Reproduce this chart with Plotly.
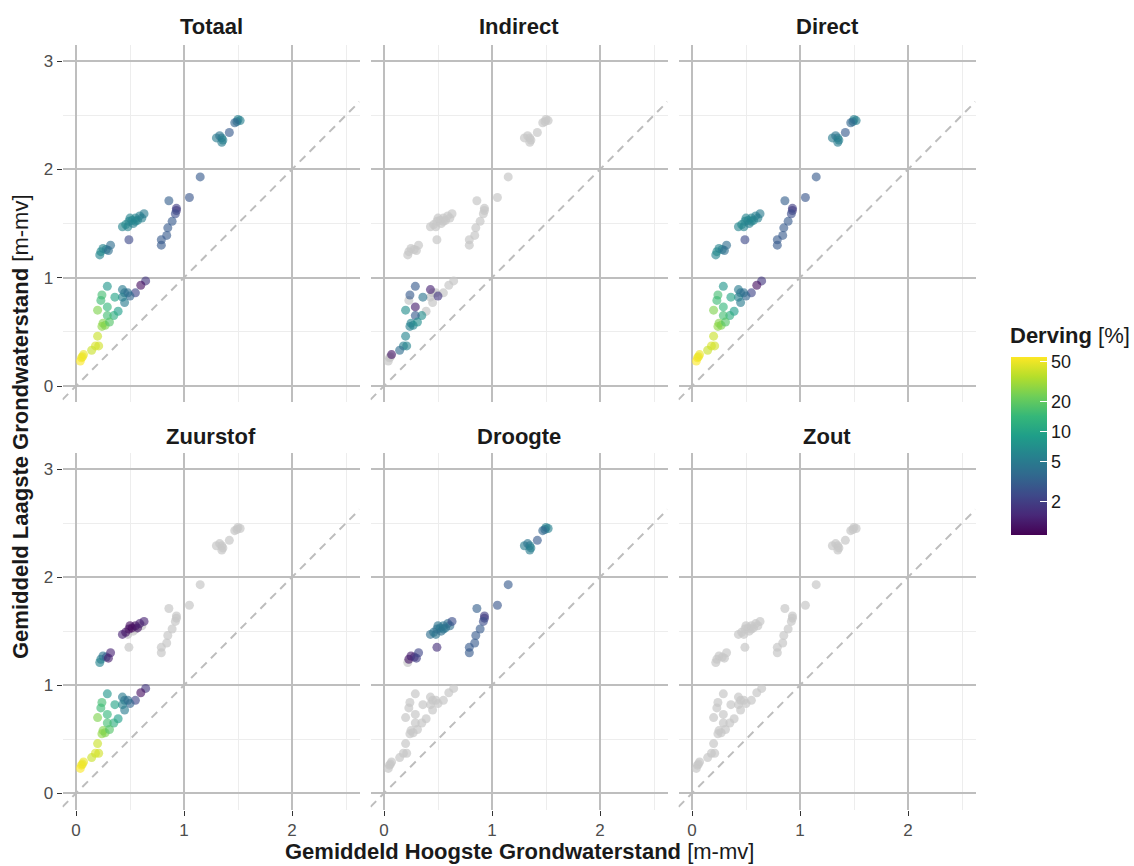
import numpy as np
import plotly.graph_objects as go

# Gemiddeld Hoogste / Laagste Grondwaterstand per locatie [m-mv]
ghg = [0.645, 0.60, 0.55, 0.50, 0.43, 0.45, 0.43, 0.45, 0.48, 0.29,
       0.24, 0.23, 0.36, 0.29, 0.20, 0.39, 0.35, 0.29, 0.25, 0.24,
       0.27, 0.31, 0.20, 0.18, 0.21, 0.145, 0.07, 0.05, 0.04, 0.06,
       0.43, 0.46, 0.48, 0.49, 0.52, 0.53, 0.55, 0.57, 0.59, 0.61,
       0.63, 0.55, 0.50,
       0.49,
       0.22, 0.23, 0.25, 0.28, 0.30, 0.32,
       1.15, 1.05, 0.86, 0.93, 0.93, 0.92, 0.89, 0.85, 0.84, 0.79, 0.79,
       1.50, 1.52, 1.49, 1.47, 1.42, 1.30, 1.35, 1.35, 1.33, 1.36]
glg = [0.97, 0.93, 0.86, 0.83, 0.89, 0.86, 0.82, 0.77, 0.86, 0.92,
       0.84, 0.79, 0.82, 0.73, 0.70, 0.69, 0.65, 0.65, 0.58, 0.55,
       0.56, 0.59, 0.46, 0.37, 0.37, 0.33, 0.29, 0.26, 0.23, 0.27,
       1.47, 1.49, 1.47, 1.52, 1.53, 1.50, 1.55, 1.53, 1.57, 1.55,
       1.59, 1.52, 1.55,
       1.35,
       1.21, 1.24, 1.27, 1.26, 1.25, 1.30,
       1.93, 1.74, 1.71, 1.64, 1.62, 1.59, 1.52, 1.46, 1.39, 1.35, 1.30,
       2.46, 2.45, 2.44, 2.43, 2.34, 2.29, 2.29, 2.25, 2.31, 2.27]

# Derving [%] per oorzaak (None = geen derving)
totaal = [1.8, 1.1, 2.2, 3.5, 5.0, 4.5, 5.5, 5.0, 4.0, 8.0,
          16, 15, 10, 14, 25, 9, 12, 16, 26, 28,
          25, 18, 40, 45, 42, 40, 50, 52, 55, 50,
          6.0, 6.5, 6.0, 6.0, 6.5, 5.5, 6.0, 6.0, 5.5, 5.5,
          5.0, 6.0, 6.0,
          2.3,
          6.0, 6.5, 6.0, 5.5, 4.0, 4.0,
          3.0, 2.8, 3.2, 2.0, 1.9, 2.5, 3.0, 3.0, 3.0, 3.0, 3.0,
          5.5, 5.5, 5.0, 3.5, 3.0, 5.0, 5.5, 5.0, 4.5, 5.5]
indirect = [None, None, None, 1.8, 1.4, None, None, None, None, 3.0,
            3.0, None, 4.5, 1.3, 7.0, None, 7.0, 3.0, 6.0, 5.5,
            6.0, 7.0, 6.0, 5.5, 6.0, 4.0, 1.2, None, None, None,
            None, None, None, None, None, None, None, None, None, None,
            None, None, None,
            None,
            None, None, None, None, None, None,
            None, None, None, None, None, None, None, None, None, None, None,
            None, None, None, None, None, None, None, None, None, None]
direct = [1.8, 1.1, 2.2, 3.5, 5.0, 4.5, 5.5, 5.0, 4.0, 8.0,
          16, 15, 10, 14, 25, 9, 12, 16, 26, 28,
          25, 18, 40, 45, 42, 40, 50, 52, 55, 50,
          6.0, 6.5, 6.0, 6.0, 6.5, 5.5, 6.0, 6.0, 5.5, 5.5,
          5.0, 6.0, 6.0,
          2.3,
          6.0, 6.5, 6.0, 5.5, 4.0, 4.0,
          3.0, 2.8, 3.2, 2.0, 1.9, 2.5, 3.0, 3.0, 3.0, 3.0, 3.0,
          5.5, 5.5, 5.0, 3.5, 3.0, 5.0, 5.5, 5.0, 4.5, 5.5]
zuurstof = [1.8, 1.1, 2.2, 3.5, 5.0, 4.5, 5.5, 5.0, 4.0, 8.0,
            16, 15, 10, 14, 25, 9, 12, 16, 26, 28,
            25, 18, 40, 45, 42, 40, 50, 52, 55, 50,
            1.4, 1.2, None, 1.1, 1.0, None, 1.1, 1.2, 1.3, None,
            1.4, None, 1.1,
            None,
            6.0, 5.5, 4.5, 3.0, 1.3, 1.4,
            None, None, None, None, None, None, None, None, None, None, None,
            None, None, None, None, None, None, None, None, None, None]
droogte = [None, None, None, None, None, None, None, None, None, None,
           None, None, None, None, None, None, None, None, None, None,
           None, None, None, None, None, None, None, None, None, None,
           4.0, 4.5, 4.5, 4.0, 5.0, 4.0, 4.5, 4.5, 4.0, 4.0,
           2.5, 4.5, 4.5,
           1.6,
           None, 1.2, 1.3, 1.5, 2.0, 2.2,
           3.0, 2.8, 3.2, 2.0, 1.9, 2.5, 3.0, 3.0, 3.0, 3.0, 3.0,
           5.5, 5.5, 5.0, 3.5, 3.0, 5.0, 5.5, 5.0, 4.5, 5.5]
zout = [None] * len(ghg)

panel_names = ["Totaal", "Indirect", "Direct", "Zuurstof", "Droogte", "Zout"]
panel_values = [totaal, indirect, direct, zuurstof, droogte, zout]

legend_ticks = [2, 5, 10, 20, 50]
color_min, color_max = 0.93, 56

W, H = 1134, 866
FONT = "Liberation Sans, Arial, sans-serif"
col_px = [(62.5, 359.5), (370.5, 667.5), (678.5, 975.5)]
row_px = [(44.75, 402.25), (452.8, 809.5)]
x_range = [-0.125, 2.625]
y_range = [-0.15, 3.15]
POINT_ALPHA = 0.62

fig = go.Figure()
layout_axes = {}
annotations = []

for i, (name, vals) in enumerate(zip(panel_names, panel_values)):
    r, c = divmod(i, 3)
    suffix = "" if i == 0 else str(i + 1)
    xa, ya = "x" + suffix, "y" + suffix

    # 1:1 reference line
    fig.add_trace(go.Scatter(
        x=x_range, y=x_range, mode="lines",
        line=dict(color="#bdbdbd", width=2, dash="8px,6px"),
        xaxis=xa, yaxis=ya, hoverinfo="skip", showlegend=False))

    na_idx = [k for k, v in enumerate(vals) if v is None]
    ok_idx = [k for k, v in enumerate(vals) if v is not None]

    fig.add_trace(go.Scatter(
        x=[ghg[k] for k in na_idx], y=[glg[k] for k in na_idx],
        mode="markers",
        marker=dict(size=9, color="#c8c8c8", opacity=0.7, line=dict(width=0)),
        xaxis=xa, yaxis=ya, showlegend=False))

    fig.add_trace(go.Scatter(
        x=[ghg[k] for k in ok_idx], y=[glg[k] for k in ok_idx],
        mode="markers",
        marker=dict(size=9, color=[np.log10(vals[k]) for k in ok_idx],
                    coloraxis="coloraxis", opacity=POINT_ALPHA, line=dict(width=0)),
        xaxis=xa, yaxis=ya, showlegend=False))

    x0, x1 = col_px[c]
    y0, y1 = row_px[r]
    bottom = r == 1
    left = c == 0

    layout_axes["xaxis" + suffix] = dict(
        domain=[x0 / W, x1 / W], range=x_range, anchor=ya,
        tickvals=[0, 1, 2], showticklabels=bottom,
        ticks="outside" if bottom else "", ticklen=5, tickwidth=1.4, tickcolor="#333333",
        tickfont=dict(size=17, color="#4d4d4d", family=FONT),
        showgrid=True, gridcolor="#bebebe", gridwidth=1.8,
        minor=dict(tickvals=[0.5, 1.5, 2.5], showgrid=True, gridcolor="#ededed", gridwidth=0.9),
        zeroline=False, showline=False, fixedrange=True)
    layout_axes["yaxis" + suffix] = dict(
        domain=[(H - y1) / H, (H - y0) / H], range=y_range, anchor=xa,
        tickvals=[0, 1, 2, 3], showticklabels=left,
        ticks="outside" if left else "", ticklen=5, tickwidth=1.4, tickcolor="#333333",
        tickfont=dict(size=17, color="#4d4d4d", family=FONT),
        showgrid=True, gridcolor="#bebebe", gridwidth=1.8,
        minor=dict(tickvals=[0.5, 1.5, 2.5], showgrid=True, gridcolor="#ededed", gridwidth=0.9),
        zeroline=False, showline=False, fixedrange=True)

    # facet strip title
    strip_y = 27 if r == 0 else 437
    annotations.append(dict(
        text="<b>%s</b>" % name, x=(x0 + x1) / 2 / W, y=(H - strip_y) / H,
        xref="paper", yref="paper", xanchor="center", yanchor="middle",
        showarrow=False, font=dict(size=22, color="#1a1a1a", family=FONT)))

annotations += [
    dict(text="<b>Gemiddeld Hoogste Grondwaterstand</b> [m-mv]",
         x=519 / W, y=1 / H, xref="paper", yref="paper",
         xanchor="center", yanchor="bottom", borderpad=0, showarrow=False,
         font=dict(size=22, color="#1a1a1a", family=FONT)),
    dict(text="<b>Gemiddeld Laagste Grondwaterstand</b> [m-mv]",
         x=20 / W, y=(H - 427) / H, xref="paper", yref="paper",
         xanchor="center", yanchor="middle", textangle=-90, showarrow=False,
         font=dict(size=22, color="#1a1a1a", family=FONT)),
    dict(text="<b>Derving</b> [%]",
         x=1008 / W, y=(H - 335) / H, xref="paper", yref="paper",
         xanchor="left", yanchor="middle", showarrow=False,
         font=dict(size=22, color="#1a1a1a", family=FONT)),
]

fig.update_layout(
    width=W, height=H, autosize=False,
    margin=dict(l=0, r=0, t=0, b=0),
    paper_bgcolor="white", plot_bgcolor="white",
    font=dict(family=FONT),
    showlegend=False,
    annotations=annotations,
    coloraxis=dict(
        colorscale="Viridis",
        cmin=np.log10(color_min), cmax=np.log10(color_max),
        colorbar=dict(
            x=1011 / W, xanchor="left", xpad=0, ypad=0,
            y=(H - 446) / H, yanchor="middle",
            len=178, lenmode="pixels", thickness=36, thicknessmode="pixels",
            tickvals=[np.log10(v) for v in legend_ticks],
            ticktext=[str(v) for v in legend_ticks],
            ticks="inside", ticklen=7, tickwidth=1.2, tickcolor="white",
            tickfont=dict(size=18, color="#1a1a1a", family=FONT),
            outlinewidth=0, title=dict(text=""))),
    **layout_axes)

fig.write_html("out.html")
